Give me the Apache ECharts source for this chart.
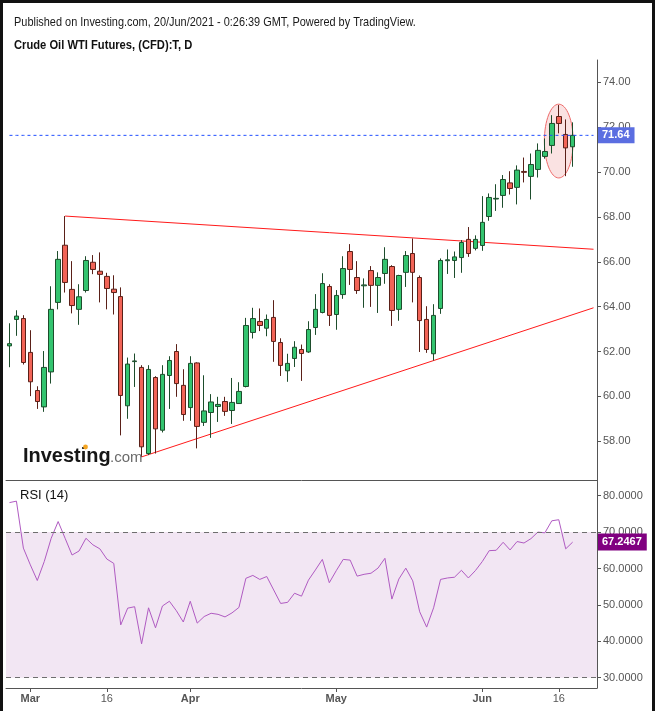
<!DOCTYPE html>
<html><head><meta charset="utf-8">
<script src="https://cdn.jsdelivr.net/npm/echarts@6/dist/echarts.min.js"></script>
<style>html,body{margin:0;padding:0;background:#fff;}#c{width:655px;height:711px;}</style>
</head><body><div id="c"></div>
<script>
// ---- data ----
const dates = [
'2021-02-24','2021-02-25','2021-02-26',
'2021-03-01','2021-03-02','2021-03-03','2021-03-04','2021-03-05','2021-03-08','2021-03-09','2021-03-10','2021-03-11','2021-03-12',
'2021-03-15','2021-03-16','2021-03-17','2021-03-18','2021-03-19','2021-03-22','2021-03-23','2021-03-24','2021-03-25','2021-03-26',
'2021-03-29','2021-03-30','2021-03-31',
'2021-04-01','2021-04-05','2021-04-06','2021-04-07','2021-04-08','2021-04-09','2021-04-12','2021-04-13','2021-04-14','2021-04-15','2021-04-16',
'2021-04-19','2021-04-20','2021-04-21','2021-04-22','2021-04-23','2021-04-26','2021-04-27','2021-04-28','2021-04-29','2021-04-30',
'2021-05-03','2021-05-04','2021-05-05','2021-05-06','2021-05-07','2021-05-10','2021-05-11','2021-05-12','2021-05-13','2021-05-14',
'2021-05-17','2021-05-18','2021-05-19','2021-05-20','2021-05-21','2021-05-24','2021-05-25','2021-05-26','2021-05-27','2021-05-28','2021-05-31',
'2021-06-01','2021-06-02','2021-06-03','2021-06-04','2021-06-07','2021-06-08','2021-06-09','2021-06-10','2021-06-11',
'2021-06-14','2021-06-15','2021-06-16','2021-06-17','2021-06-18'
];
const padDates = ['2021-06-21','2021-06-22','2021-06-23'];
const open = [62.25,63.43,63.47,61.96,60.26,59.53,61.09,64.19,66.74,64.77,63.88,64.72,65.98,65.58,65.35,64.78,64.45,59.58,61.55,61.29,57.45,60.84,58.49,60.93,62.00,60.49,
59.50,61.49,58.84,59.28,59.55,59.77,59.37,59.68,60.44,62.85,63.34,63.04,63.52,62.40,61.14,61.69,62.09,61.98,63.07,63.74,64.90,
63.65,64.54,66.46,65.30,64.93,65.61,64.95,65.48,65.79,63.88,65.53,66.37,65.30,63.43,61.90,63.92,66.05,66.06,66.19,67.00,66.60,
66.73,68.02,68.80,68.96,69.52,69.32,70.03,69.81,70.12,70.70,71.19,72.48,71.68,71.13];
const close = [62.35,63.58,61.51,60.65,59.77,61.29,63.88,66.11,65.08,64.05,64.44,66.06,65.66,65.44,64.81,64.63,60.04,61.44,61.58,57.75,61.20,58.55,60.98,61.60,60.57,59.19,
61.47,58.66,59.35,59.75,59.64,59.33,59.73,60.22,63.16,63.47,63.16,63.43,62.45,61.38,61.47,62.19,61.91,62.98,63.88,65.03,63.61,
64.50,65.70,65.66,64.72,64.97,64.95,65.30,66.11,63.83,65.39,66.28,65.53,63.38,62.09,63.61,66.06,66.09,66.22,66.86,66.37,67.00,
67.76,68.87,68.83,69.67,69.27,70.09,69.99,70.34,70.97,70.92,72.17,72.17,71.08,71.64];
const low = [61.30,62.70,61.42,60.01,59.44,59.31,60.57,63.88,64.63,63.70,63.19,64.63,65.45,64.19,63.88,63.65,58.26,59.00,60.42,57.30,57.38,57.45,58.39,59.44,59.98,58.91,
58.91,57.68,58.68,58.15,58.86,59.13,58.77,59.66,60.40,62.58,62.91,62.68,61.54,60.91,60.65,61.31,60.69,61.94,62.74,63.70,63.14,
62.97,64.35,64.97,64.57,63.95,63.99,63.72,65.02,63.14,63.37,64.88,64.19,61.98,61.94,61.60,63.68,65.46,65.28,65.51,66.22,66.51,
66.49,67.83,68.27,68.41,69.00,68.56,69.54,68.78,69.76,70.60,70.83,71.73,69.82,70.24];
const high = [63.26,63.84,63.62,62.95,60.45,62.02,64.91,66.48,68.04,66.03,65.00,66.25,66.30,66.42,65.51,65.40,64.86,61.73,61.91,61.39,61.39,60.90,61.39,61.79,62.33,61.21,
61.79,61.52,60.94,60.10,59.98,59.98,60.82,60.63,63.50,63.95,63.92,63.65,64.29,62.59,61.90,62.46,62.31,63.35,64.56,65.49,65.00,
64.74,66.25,66.79,66.03,65.26,65.81,65.53,66.65,65.85,65.42,66.48,67.04,65.39,64.02,64.11,66.15,66.55,66.46,66.97,67.55,67.18,
68.93,69.05,69.46,69.87,70.04,70.30,70.65,70.83,71.28,71.50,72.54,72.99,72.35,72.22];
const rsi = [78.1,78.5,65.6,61.0,56.7,61.9,68.3,72.9,68.3,63.7,
64.8,68.3,66.5,65.4,62.6,61.4,44.5,49.1,49.5,39.3,
49.2,43.7,49.7,51.0,48.4,45.3,51.0,45.0,46.8,47.7,
47.4,46.7,47.8,49.3,57.3,58.1,57.0,57.8,54.1,50.4,
50.7,53.2,52.4,56.8,59.6,62.5,56.1,59.4,62.5,62.3,
57.9,58.4,58.7,60.1,62.8,51.6,57.1,60.1,56.6,48.1,
43.9,49.2,57.0,57.4,57.6,59.5,57.4,59.4,61.9,64.9,
65.0,67.2,65.1,67.4,67.0,68.2,70.0,69.8,73.1,73.4,
65.4,67.2467];
const priceTicks = [58,60,62,64,66,68,70,72,74];
const rsiTicks = [30,40,50,60,70,80];
const rsiBand = [30,70];
const xTickLabels = {'2021-03-01':'Mar','2021-03-16':'16','2021-04-01':'Apr','2021-05-03':'May','2021-06-01':'Jun','2021-06-16':'16'};
const upperTrend = [['2021-03-08',68.04],['2021-06-23',66.56]];
const lowerTrend = [['2021-03-23',57.30],['2021-06-23',63.95]];
const ellipseBox = [['2021-06-14',73.03],['2021-06-18',69.74]];

// ---- build ----
const FF = "'Liberation Sans', Arial, sans-serif";
const cats = dates.concat(padDates);
const candles = dates.map((d,i)=>[open[i],close[i],low[i],high[i]]);
function trend(pts){ return cats.map(c=>{const p=pts.find(q=>q[0]===c); return p?p[1]:null;}); }
const lastClose = close[close.length-1];
const lastRsi = rsi[rsi.length-1];
const monthNames = ['Mar','Apr','May','Jun'];

const chart = echarts.init(document.getElementById('c'), null, {renderer:'canvas'});
const axisCol = '#555';
const option = {
  animation:false,
  backgroundColor:'#fff',
  grid:[
    {left:6,right:58,top:60,height:420},
    {left:6,right:58,top:480,height:208}
  ],
  xAxis:[
    {type:'category',gridIndex:0,data:cats,boundaryGap:true,
     axisLine:{show:true,lineStyle:{color:axisCol,width:1}},axisTick:{show:false},axisLabel:{show:false},splitLine:{show:false}},
    {type:'category',gridIndex:1,data:cats,boundaryGap:true,
     axisLine:{show:true,lineStyle:{color:axisCol,width:1}},
     axisTick:{show:true,alignWithLabel:true,length:4,lineStyle:{color:axisCol},interval:(i)=>xTickLabels[cats[i]]!==undefined},
     axisLabel:{show:true,interval:(i)=>xTickLabels[cats[i]]!==undefined,margin:5,
       formatter:(v)=>{const t=xTickLabels[v]; if(!t) return ''; return monthNames.includes(t)?'{b|'+t+'}':'{n|'+t+'}';},
       rich:{b:{fontWeight:'bold',fontSize:11,color:axisCol,fontFamily:FF},n:{fontSize:11,color:axisCol,fontFamily:FF}}},
     splitLine:{show:false}}
  ],
  yAxis:[
    {type:'value',gridIndex:0,position:'right',min:56.27,max:75,splitNumber:9,
     axisLine:{show:true,lineStyle:{color:axisCol}},axisTick:{show:true,length:4,lineStyle:{color:axisCol}},
     axisLabel:{show:true,margin:6,color:axisCol,fontSize:11,fontFamily:FF,showMinLabel:false,showMaxLabel:false,
       formatter:(v)=>priceTicks.includes(Math.round(v*100)/100)?v.toFixed(2):''},
     splitLine:{show:false}},
    {type:'value',gridIndex:1,position:'right',min:27.17,max:84.31,splitNumber:5,
     axisLine:{show:true,lineStyle:{color:axisCol}},axisTick:{show:true,length:4,lineStyle:{color:axisCol}},
     axisLabel:{show:true,margin:6,color:axisCol,fontSize:11,fontFamily:FF,showMinLabel:false,showMaxLabel:false,
       formatter:(v)=>rsiTicks.includes(Math.round(v*100)/100)?v.toFixed(4):''},
     splitLine:{show:false}}
  ],
  series:[
    {type:'candlestick',xAxisIndex:0,yAxisIndex:0,data:candles,barWidth:5,z:3,
     itemStyle:{color:'#33c46f',color0:'#f26457',borderColor:'#1d4d2c',borderColor0:'#5a2018',borderWidth:1}},
    {type:'line',xAxisIndex:0,yAxisIndex:0,data:trend(upperTrend),connectNulls:true,showSymbol:false,silent:true,z:2,
     color:'#ff1a1a',lineStyle:{color:'#ff1a1a',width:1}},
    {type:'line',xAxisIndex:0,yAxisIndex:0,data:trend(lowerTrend),connectNulls:true,showSymbol:false,silent:true,z:2,
     color:'#ff1a1a',lineStyle:{color:'#ff1a1a',width:1}},
    // last-price line
    {type:'line',xAxisIndex:0,yAxisIndex:0,data:cats.map(()=>lastClose),showSymbol:false,silent:true,z:4,
     color:'#1f4dff',lineStyle:{color:'#1f4dff',type:[3,3],width:1},
     markLine:{silent:true,symbol:['none','none'],animation:false,
       data:[{yAxis:lastClose,lineStyle:{color:'rgba(0,0,0,0)',width:0.01}}],
       label:{show:true,position:'end',distance:1,formatter:lastClose.toFixed(2),backgroundColor:'#5b6ee1',color:'#fff',
         fontWeight:'bold',fontSize:11,fontFamily:FF,padding:[2,5,2,4],lineHeight:12}}},
    {type:'line',xAxisIndex:1,yAxisIndex:1,data:rsi,showSymbol:false,silent:true,
     color:'#b05bc2',lineStyle:{color:'#b05bc2',width:1},
     markArea:{silent:true,itemStyle:{color:'#f2e6f3'},data:[[{yAxis:rsiBand[0]},{yAxis:rsiBand[1]}]]},
     markLine:{silent:true,symbol:['none','none'],animation:false,
       data:[
         {yAxis:rsiBand[1],lineStyle:{color:'#6e6e6e',type:[5,4],width:1},label:{show:false}},
         {yAxis:rsiBand[0],lineStyle:{color:'#6e6e6e',type:[5,4],width:1},label:{show:false}},
         {yAxis:lastRsi,lineStyle:{color:'rgba(0,0,0,0)',width:0.01},label:{show:true,position:'end',distance:1,formatter:lastRsi.toFixed(4),
           backgroundColor:'#800080',color:'#fff',fontWeight:'bold',fontSize:11,fontFamily:FF,padding:[3,5,2,4],lineHeight:12}}
       ]}}
  ],
  graphic:[
    {type:'rect',id:'bt',shape:{x:0,y:0,width:655,height:3},style:{fill:'#111'},silent:true,z:10},
    {type:'rect',id:'bl',shape:{x:0,y:0,width:3,height:711},style:{fill:'#111'},silent:true,z:10},
    {type:'rect',id:'br',shape:{x:652,y:0,width:3,height:711},style:{fill:'#111'},silent:true,z:10},
    {type:'text',id:'h1',x:14,y:22,scaleX:0.81,style:{text:'Published on Investing.com, 20/Jun/2021 - 0:26:39 GMT, Powered by TradingView.',
      font:'13.5px '+FF,fill:'#1a1a1a',verticalAlign:'middle'},silent:true},
    {type:'text',id:'h2',x:14,y:45,scaleX:0.86,style:{text:'Crude Oil WTI Futures, (CFD):T, D',
      font:'bold 13px '+FF,fill:'#111',verticalAlign:'middle'},silent:true},
    {type:'text',id:'logo1',x:23,y:456,scaleX:0.95,style:{text:'Investing',font:'bold 21px '+FF,fill:'#161616',verticalAlign:'middle'},silent:true,z:5},
    {type:'circle',id:'logodot',shape:{cx:85.5,cy:447,r:2.4},style:{fill:'#f5a623'},silent:true,z:6},
    {type:'text',id:'logo2',x:110,y:458,style:{text:'.com',font:'15px '+FF,fill:'#6a6a6a',verticalAlign:'middle'},silent:true,z:5},
    {type:'text',id:'rsilbl',x:20,y:495.5,style:{text:'RSI (14)',font:'13px '+FF,fill:'#111',verticalAlign:'middle'},silent:true,z:5}
  ]
};
chart.setOption(option);
// annotation ellipse placed through the chart's own scales
const p1 = chart.convertToPixel({seriesIndex:0}, ellipseBox[0]);
const p2 = chart.convertToPixel({seriesIndex:0}, ellipseBox[1]);
chart.setOption({graphic:[{type:'ellipse',id:'ell',z:1,silent:true,
  shape:{cx:(p1[0]+p2[0])/2,cy:(p1[1]+p2[1])/2,rx:Math.abs(p2[0]-p1[0])/2+0.5,ry:Math.abs(p2[1]-p1[1])/2},
  style:{fill:'rgba(232,110,110,0.2)',stroke:'#ee6a6a',lineWidth:1}}]});
</script></body></html>
